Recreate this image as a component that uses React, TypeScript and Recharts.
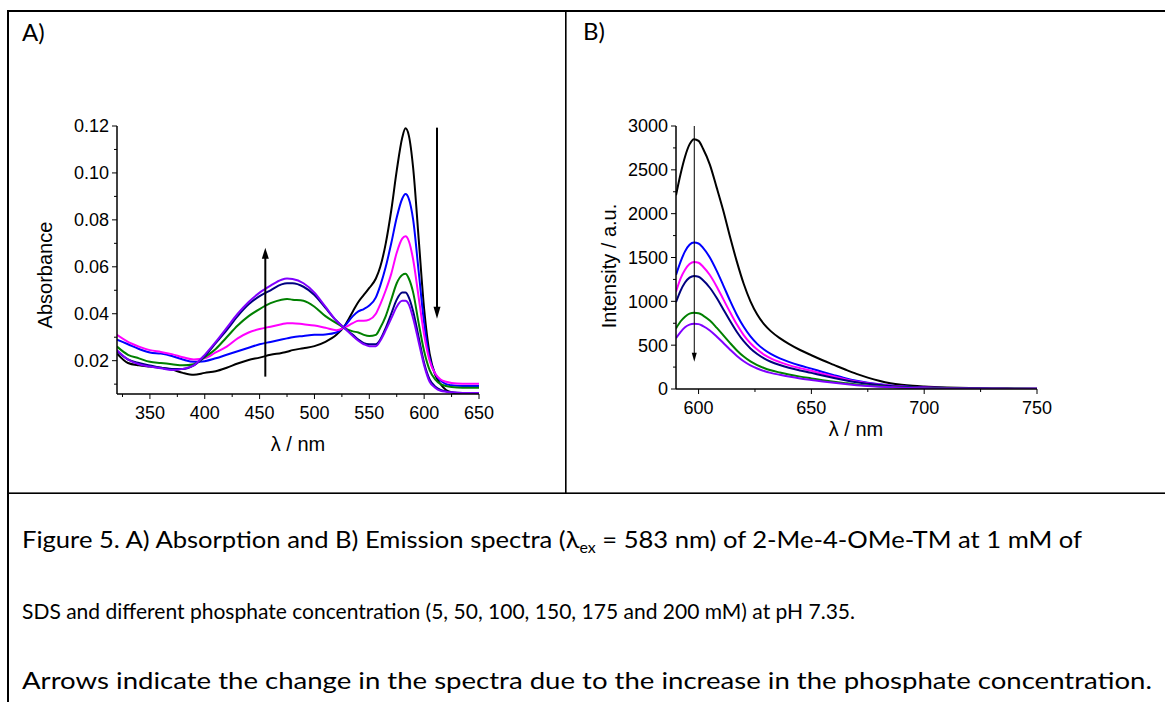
import React from 'react';
import { LineChart, Line, XAxis, YAxis, ReferenceLine } from 'recharts';

// ---------- Panel A: absorption spectra ----------
const wavelengthA = [320, 330, 340, 350, 360, 370, 380, 390, 400, 410, 420, 430, 440, 450, 460, 470, 475, 480, 490, 500, 510, 520, 527, 535, 540, 545, 550, 556, 560, 565, 570, 575, 580, 583, 586, 590, 595, 600, 605, 610, 615, 620, 625, 630, 640, 650];
const absBlack = [0.023, 0.019, 0.018, 0.0175, 0.017, 0.0162, 0.0148, 0.014, 0.0148, 0.0155, 0.017, 0.0188, 0.0203, 0.0213, 0.0225, 0.0233, 0.0238, 0.0245, 0.0253, 0.0262, 0.028, 0.031, 0.0345, 0.041, 0.045, 0.048, 0.051, 0.055, 0.06, 0.07, 0.084, 0.101, 0.115, 0.119, 0.116, 0.102, 0.072, 0.042, 0.023, 0.014, 0.01, 0.0075, 0.0065, 0.006, 0.006, 0.006];
const absBlue = [0.029, 0.027, 0.025, 0.0235, 0.023, 0.022, 0.0205, 0.0195, 0.0198, 0.021, 0.0225, 0.024, 0.0255, 0.027, 0.028, 0.029, 0.0295, 0.03, 0.0305, 0.031, 0.0312, 0.032, 0.0345, 0.039, 0.041, 0.042, 0.0435, 0.047, 0.052, 0.06, 0.07, 0.081, 0.089, 0.091, 0.089, 0.08, 0.058, 0.036, 0.021, 0.0145, 0.0115, 0.01, 0.0095, 0.0093, 0.0092, 0.0092];
const absMagenta = [0.031, 0.028, 0.026, 0.0245, 0.0237, 0.0228, 0.0215, 0.0205, 0.021, 0.0235, 0.026, 0.0295, 0.032, 0.0335, 0.0345, 0.0355, 0.036, 0.036, 0.0355, 0.035, 0.034, 0.033, 0.034, 0.036, 0.037, 0.037, 0.0375, 0.04, 0.044, 0.05, 0.057, 0.066, 0.072, 0.073, 0.071, 0.063, 0.047, 0.031, 0.02, 0.0145, 0.012, 0.011, 0.0105, 0.0103, 0.0102, 0.0102];
const absGreen = [0.026, 0.0225, 0.021, 0.0195, 0.019, 0.0185, 0.018, 0.0185, 0.0215, 0.025, 0.03, 0.035, 0.039, 0.042, 0.0445, 0.046, 0.0463, 0.046, 0.0455, 0.043, 0.039, 0.036, 0.034, 0.0325, 0.032, 0.031, 0.0305, 0.031, 0.034, 0.039, 0.046, 0.053, 0.0565, 0.057, 0.055, 0.049, 0.036, 0.024, 0.016, 0.012, 0.01, 0.0092, 0.0088, 0.0086, 0.0085, 0.0085];
const absNavy = [0.024, 0.0205, 0.019, 0.018, 0.017, 0.0165, 0.0165, 0.018, 0.022, 0.0275, 0.033, 0.039, 0.044, 0.0475, 0.05, 0.0525, 0.053, 0.053, 0.0515, 0.048, 0.0425, 0.037, 0.034, 0.031, 0.029, 0.0275, 0.027, 0.027, 0.029, 0.034, 0.04, 0.046, 0.049, 0.049, 0.047, 0.041, 0.03, 0.019, 0.012, 0.009, 0.0075, 0.007, 0.0065, 0.0063, 0.0062, 0.0062];
const absViolet = [0.0245, 0.0205, 0.0185, 0.0175, 0.0168, 0.016, 0.0165, 0.018, 0.0225, 0.028, 0.034, 0.04, 0.045, 0.049, 0.052, 0.0545, 0.055, 0.0548, 0.053, 0.049, 0.043, 0.037, 0.034, 0.0305, 0.0285, 0.027, 0.0262, 0.0262, 0.0285, 0.033, 0.038, 0.043, 0.0455, 0.0455, 0.044, 0.038, 0.028, 0.018, 0.011, 0.0085, 0.0072, 0.0068, 0.0065, 0.0063, 0.0062, 0.0062];
const ticksA_X = [325, 350, 375, 400, 425, 450, 475, 500, 525, 550, 575, 600, 625, 650];
const ticksA_Y = [0.01, 0.02, 0.03, 0.04, 0.05, 0.06, 0.07, 0.08, 0.09, 0.1, 0.11, 0.12];

// ---------- Panel B: emission spectra ----------
const wavelengthB = [590, 592, 594, 596, 598, 600, 602, 605, 608, 611, 614, 617, 620, 623, 626, 629, 632, 636, 640, 645, 650, 655, 660, 665, 670, 675, 680, 685, 690, 695, 700, 710, 720, 730, 740, 750];
const emBlack = [2210, 2450, 2650, 2790, 2850, 2830, 2740, 2560, 2300, 2030, 1730, 1450, 1200, 1000, 850, 740, 660, 580, 515, 445, 385, 328, 275, 222, 172, 130, 94, 66, 48, 36, 28, 17, 10, 6, 4, 2];
const emBlue = [1300, 1450, 1570, 1645, 1670, 1660, 1610, 1500, 1350, 1180, 1005, 845, 710, 600, 515, 450, 400, 350, 310, 268, 232, 194, 158, 124, 95, 72, 55, 40, 30, 23, 18, 11, 7, 4, 3, 2];
const emMagenta = [1110, 1260, 1360, 1425, 1450, 1440, 1395, 1300, 1170, 1022, 875, 735, 615, 522, 450, 393, 350, 307, 272, 238, 208, 174, 142, 112, 85, 65, 50, 37, 28, 21, 16, 10, 6, 4, 3, 2];
const emNavy = [990, 1120, 1215, 1270, 1290, 1280, 1240, 1155, 1040, 908, 775, 650, 545, 463, 400, 350, 311, 273, 243, 212, 184, 154, 126, 100, 77, 59, 45, 33, 25, 19, 14, 9, 6, 4, 3, 2];
const emGreen = [690, 770, 825, 860, 870, 865, 838, 780, 700, 612, 523, 440, 370, 315, 273, 240, 214, 188, 165, 141, 121, 101, 83, 67, 52, 40, 30, 23, 17, 13, 10, 6, 4, 3, 2, 1];
const emViolet = [580, 650, 705, 735, 745, 740, 718, 668, 600, 524, 448, 377, 317, 270, 234, 206, 184, 162, 142, 120, 103, 86, 70, 56, 44, 34, 26, 20, 15, 11, 8, 5, 3, 2, 1, 1];
const ticksB_X = [600, 625, 650, 675, 700, 725, 750];
const ticksB_Y = [0, 250, 500, 750, 1000, 1250, 1500, 1750, 2000, 2250, 2500, 2750, 3000];

const colorsA = ['#000000', '#0000FF', '#FF00FF', '#008000', '#000080', '#8000FF'];
const colorsB = ['#000000', '#0000FF', '#FF00FF', '#000080', '#008000', '#8000FF'];

const dataA = wavelengthA.map((x, i) => ({
  x, s0: absBlack[i], s1: absBlue[i], s2: absMagenta[i], s3: absGreen[i], s4: absNavy[i], s5: absViolet[i],
}));
const dataB = wavelengthB.map((x, i) => ({
  x, s0: emBlack[i], s1: emBlue[i], s2: emMagenta[i], s3: emNavy[i], s4: emGreen[i], s5: emViolet[i],
}));

const AXIS_FONT = '"Liberation Sans", Arial, sans-serif';
const DOC_FONT = 'Lato, "Open Sans", sans-serif';

const makeXTick = (isMajor: (v: number) => boolean) => (p: any) => {
  const { x, y, payload } = p;
  const v = payload.value;
  const major = isMajor(v);
  return (
    <g>
      <line x1={x} x2={x} y1={y} y2={y + (major ? 5 : 3)} stroke="#000" strokeWidth={1} />
      {major && (
        <text x={x} y={y + 24.5} textAnchor="middle" fontSize={18} fontFamily={AXIS_FONT} fill="#000">{v}</text>
      )}
    </g>
  );
};

const makeYTick = (isMajor: (v: number) => boolean, fmt: (v: number) => string) => (p: any) => {
  const { x, y, payload } = p;
  const v = payload.value;
  const major = isMajor(v);
  return (
    <g>
      <line x1={x} x2={x - (major ? 5 : 3)} y1={y} y2={y} stroke="#000" strokeWidth={1} />
      {major && (
        <text x={x - 8} y={y} dy="0.36em" textAnchor="end" fontSize={18} fontFamily={AXIS_FONT} fill="#000">{fmt(v)}</text>
      )}
    </g>
  );
};

const arrowShape = (w: number, headLen: number, headHalf: number) => (p: any) => {
  const { x1, y1, x2, y2 } = p;
  const d = y2 > y1 ? 1 : -1;
  return (
    <g>
      <line x1={x1} y1={y1} x2={x2} y2={y2 - d * headLen * 0.6} stroke="#000" strokeWidth={w} />
      <polygon points={`${x2},${y2} ${x2 - headHalf},${y2 - d * headLen} ${x2 + headHalf},${y2 - d * headLen}`} fill="#000" />
    </g>
  );
};

const captionLines = [
  { y: 548, len: 1060, size: 24 },
  { y: 619, len: 833, size: 21.5 },
  { y: 689, len: 1130, size: 24 },
];

export default function App() {
  return (
    <div style={{ position: 'absolute', left: 0, top: 0, width: 1165, height: 702, background: '#fff', overflow: 'hidden' }}>
      <div style={{ position: 'absolute', left: 0, top: 0 }}>
        <LineChart width={566} height={493} data={dataA} margin={{ top: 126, right: 87, bottom: 0, left: 0 }}>
          <XAxis
            dataKey="x" type="number" domain={[320, 650]} allowDataOverflow ticks={ticksA_X} interval={0}
            height={99} tickSize={0} tickMargin={0} stroke="#000" strokeWidth={1.5}
            tick={makeXTick((v) => v % 50 === 0)}
          />
          <YAxis
            type="number" domain={[0.0058, 0.12]} allowDataOverflow ticks={ticksA_Y} interval={0}
            width={117} tickSize={0} tickMargin={0} stroke="#000" strokeWidth={1.5}
            tick={makeYTick((v) => Math.round(v * 100) % 2 === 0, (v) => v.toFixed(2))}
          />
          {['s0', 's1', 's2', 's3', 's4', 's5'].map((k, i) => (
            <Line key={k} dataKey={k} type="monotone" stroke={colorsA[i]} strokeWidth={2} dot={false} isAnimationActive={false} />
          ))}
          <ReferenceLine segment={[{ x: 455.2, y: 0.0132 }, { x: 455.2, y: 0.0681 }]} shape={arrowShape(2, 11, 3.5)} />
          <ReferenceLine segment={[{ x: 611.7, y: 0.1193 }, { x: 611.7, y: 0.0379 }]} shape={arrowShape(2, 12, 3.5)} />
        </LineChart>
      </div>
      <div style={{ position: 'absolute', left: 566, top: 0 }}>
        <LineChart width={599} height={493} data={dataB} margin={{ top: 126, right: 128, bottom: 0, left: 0 }}>
          <XAxis
            dataKey="x" type="number" domain={[590, 750]} allowDataOverflow ticks={ticksB_X} interval={0}
            height={104} tickSize={0} tickMargin={0} stroke="#000" strokeWidth={1.5}
            tick={makeXTick((v) => v % 50 === 0)}
          />
          <YAxis
            type="number" domain={[0, 3000]} allowDataOverflow ticks={ticksB_Y} interval={0}
            width={110} tickSize={0} tickMargin={0} stroke="#000" strokeWidth={1.5}
            tick={makeYTick((v) => v % 500 === 0, (v) => String(v))}
          />
          {['s0', 's1', 's2', 's3', 's4', 's5'].map((k, i) => (
            <Line key={k} dataKey={k} type="monotone" stroke={colorsB[i]} strokeWidth={2} dot={false} isAnimationActive={false} />
          ))}
          <ReferenceLine segment={[{ x: 598.1, y: 3000 }, { x: 598.1, y: 311 }]} shape={arrowShape(1, 9, 2.5)} />
        </LineChart>
      </div>
      <svg width={1165} height={702} style={{ position: 'absolute', left: 0, top: 0, pointerEvents: 'none' }}>
        <rect x={7} y={10} width={1158} height={2} fill="#000" />
        <rect x={7} y={10} width={2} height={692} fill="#000" />
        <rect x={565} y={10} width={1.6} height={483} fill="#000" />
        <rect x={7} y={492.4} width={1158} height={1.6} fill="#000" />
        <text x={22} y={41} fontSize={24} fontFamily={DOC_FONT} fill="#000">A)</text>
        <text x={583} y={40} fontSize={24} fontFamily={DOC_FONT} fill="#000">B)</text>
        <text x={0} y={0} transform="translate(52,275) rotate(-90)" textAnchor="middle" fontSize={20} fontFamily={AXIS_FONT} fill="#000">Absorbance</text>
        <text x={298} y={451} textAnchor="middle" fontSize={20} fontFamily={AXIS_FONT} fill="#000">λ / nm</text>
        <text x={0} y={0} transform="translate(616,266) rotate(-90)" textAnchor="middle" fontSize={20} fontFamily={AXIS_FONT} fill="#000">Intensity / a.u.</text>
        <text x={856} y={436} textAnchor="middle" fontSize={20} fontFamily={AXIS_FONT} fill="#000">λ / nm</text>
        <text x={22} y={captionLines[0].y} textLength={captionLines[0].len} lengthAdjust="spacingAndGlyphs" fontSize={captionLines[0].size} fontFamily={DOC_FONT} fill="#000">
          Figure 5. A) Absorption and B) Emission spectra (λ<tspan fontSize={15} dy={5}>ex</tspan><tspan dy={-5}> = 583 nm) of 2-Me-4-OMe-TM at 1 mM of</tspan>
        </text>
        <text x={22} y={captionLines[1].y} textLength={captionLines[1].len} lengthAdjust="spacingAndGlyphs" fontSize={captionLines[1].size} fontFamily={DOC_FONT} fill="#000">
          SDS and different phosphate concentration (5, 50, 100, 150, 175 and 200 mM) at pH 7.35.
        </text>
        <text x={22} y={captionLines[2].y} textLength={captionLines[2].len} lengthAdjust="spacingAndGlyphs" fontSize={captionLines[2].size} fontFamily={DOC_FONT} fill="#000">
          Arrows indicate the change in the spectra due to the increase in the phosphate concentration.
        </text>
      </svg>
    </div>
  );
}
